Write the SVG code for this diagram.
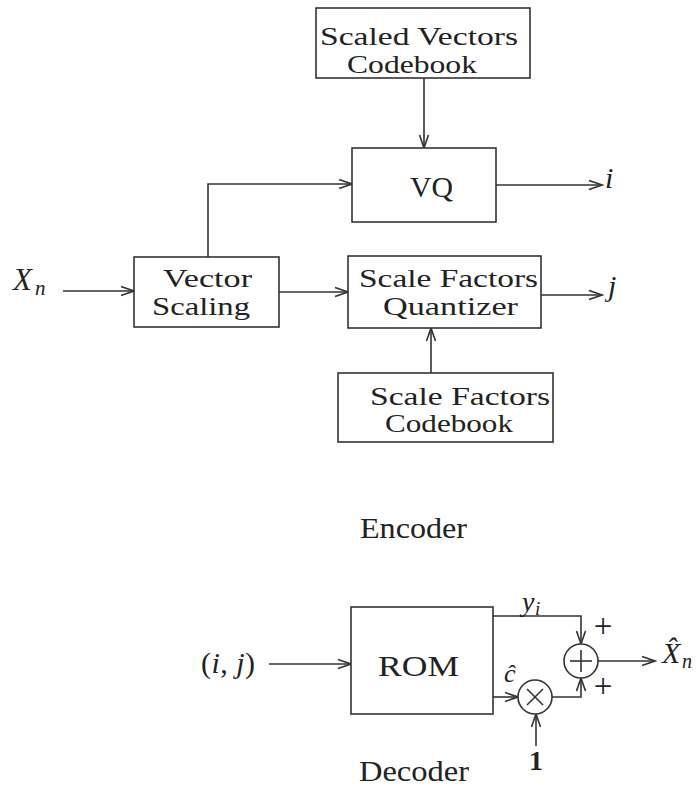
<svg xmlns="http://www.w3.org/2000/svg" width="700" height="787" viewBox="0 0 700 787">
<style>
.box{fill:#fff;stroke:#333;stroke-width:1.6}
.ln{fill:none;stroke:#333;stroke-width:1.6}
.arr{fill:none;stroke:#333;stroke-width:1.6;marker-end:url(#ah)}
.t{font-family:"Liberation Serif","DejaVu Serif",serif;font-size:28px;fill:#222}
.bt{font-family:"Liberation Serif","DejaVu Serif",serif;font-size:26px;fill:#222}
.it{font-family:"Liberation Serif","DejaVu Serif",serif;font-style:italic;fill:#222}
</style>
<defs>
<marker id="ah" markerUnits="userSpaceOnUse" markerWidth="16" markerHeight="12" refX="14" refY="6" orient="auto" viewBox="0 0 16 12">
<path d="M1 1.5 L14 6 L1 10.5" fill="none" stroke="#333" stroke-width="1.6"/>
</marker>
</defs>
<rect width="700" height="787" fill="#fff"/>
<g id="connectors">
<line class="arr" x1="63" y1="291" x2="134" y2="291"/>
<line class="arr" x1="424" y1="78" x2="424" y2="148"/>
<path class="arr" d="M208 257 V184 H352"/>
<line class="arr" x1="279" y1="292" x2="348" y2="292"/>
<line class="arr" x1="496" y1="185" x2="602" y2="185"/>
<line class="arr" x1="541" y1="295" x2="602" y2="295"/>
<line class="arr" x1="431" y1="373" x2="431" y2="328"/>
<line class="arr" x1="269" y1="664" x2="351" y2="664"/>
<path class="arr" d="M493 616 H581 V644"/>
<line class="arr" x1="493" y1="697" x2="518" y2="697"/>
<path class="arr" d="M552 697 H581 V678"/>
<line class="arr" x1="536" y1="746" x2="536" y2="714"/>
<line class="arr" x1="598" y1="661" x2="655" y2="661"/>
</g>
<g id="svc">
<rect class="box" x="316" y="8" width="214" height="70"/>
<text class="bt" x="320" y="45" textLength="198" lengthAdjust="spacingAndGlyphs">Scaled Vectors</text>
<text class="bt" x="347" y="73" textLength="130" lengthAdjust="spacingAndGlyphs">Codebook</text>
</g>
<g id="vq">
<rect class="box" x="352" y="148" width="144" height="74"/>
<text class="t" x="410" y="197" textLength="43" lengthAdjust="spacingAndGlyphs" style="font-size:30px">VQ</text>
</g>
<g id="vs">
<rect class="box" x="134" y="257" width="145" height="70"/>
<text class="bt" x="163" y="287" textLength="89" lengthAdjust="spacingAndGlyphs">Vector</text>
<text class="bt" x="152" y="315" textLength="98" lengthAdjust="spacingAndGlyphs">Scaling</text>
</g>
<g id="sfq">
<rect class="box" x="348" y="256" width="193" height="72"/>
<text class="bt" x="359" y="287" textLength="179" lengthAdjust="spacingAndGlyphs">Scale Factors</text>
<text class="bt" x="383" y="315" textLength="135" lengthAdjust="spacingAndGlyphs">Quantizer</text>
</g>
<g id="sfc">
<rect class="box" x="338" y="373" width="215" height="69"/>
<text class="bt" x="370" y="405" textLength="180" lengthAdjust="spacingAndGlyphs">Scale Factors</text>
<text class="bt" x="385" y="432" textLength="128" lengthAdjust="spacingAndGlyphs">Codebook</text>
</g>
<g id="labels-enc">
<text class="it" x="13" y="290" font-size="31">X</text>
<text class="it" x="35" y="295" font-size="21">n</text>
<text class="it" x="605" y="188" font-size="30">i</text>
<text class="it" x="608" y="296" font-size="30">j</text>
<text class="t" x="360" y="538" textLength="107" lengthAdjust="spacingAndGlyphs" style="font-size:30px">Encoder</text>
</g>
<g id="rom">
<rect class="box" x="351" y="607" width="142" height="107"/>
<text class="t" x="378" y="676" textLength="81" lengthAdjust="spacingAndGlyphs" style="font-size:30px">ROM</text>
</g>
<g id="plus">
<circle class="box" cx="581" cy="661" r="17"/>
<line class="ln" x1="570" y1="661" x2="592" y2="661"/>
<line class="ln" x1="581" y1="650" x2="581" y2="672"/>
</g>
<g id="times">
<circle class="box" cx="535" cy="697" r="17"/>
<line class="ln" x1="527" y1="689" x2="543" y2="705"/>
<line class="ln" x1="543" y1="689" x2="527" y2="705"/>
</g>
<g id="labels-dec">
<text class="t" x="201" y="673" textLength="54" style="font-size:30px"><tspan>(</tspan><tspan font-style="italic">i</tspan><tspan>, </tspan><tspan font-style="italic">j</tspan><tspan>)</tspan></text>
<text class="it" x="522" y="611" font-size="28">y</text>
<text class="it" x="535" y="615" font-size="19">i</text>
<text class="it" x="504" y="682" font-size="26">ĉ</text>
<text class="t" x="603" y="637" text-anchor="middle" style="font-size:33px">+</text>
<text class="t" x="603" y="697" text-anchor="middle" style="font-size:33px">+</text>
<text class="it" x="662" y="663" font-size="30">X̂</text>
<text class="it" x="682" y="668" font-size="20">n</text>
<text class="t" x="536" y="770" text-anchor="middle" font-weight="bold">1</text>
<text class="t" x="359" y="781" textLength="110" lengthAdjust="spacingAndGlyphs" style="font-size:30px">Decoder</text>
</g>
</svg>
